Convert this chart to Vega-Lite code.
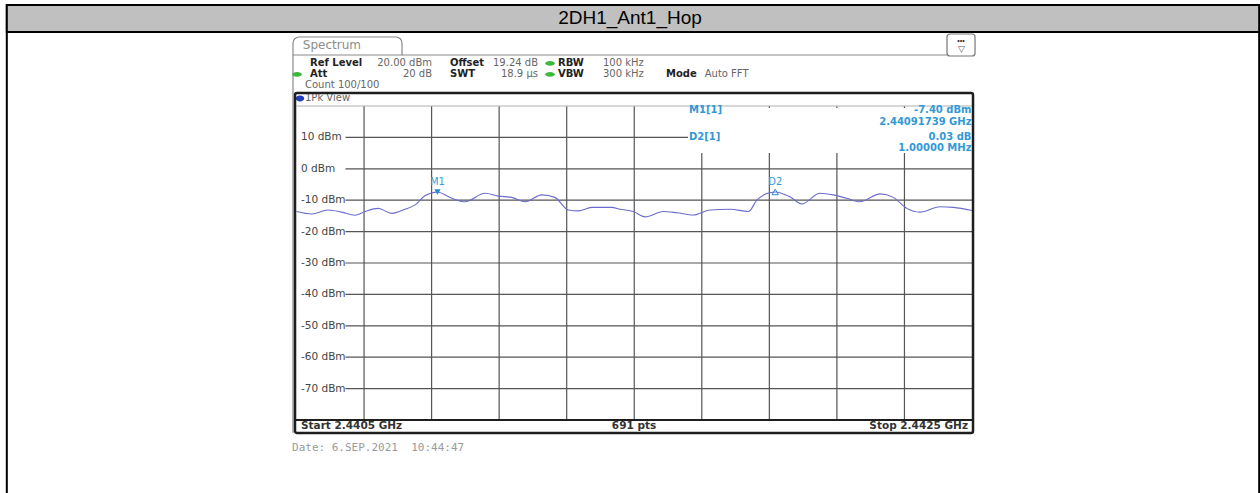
{
"$schema": "https://vega.github.io/schema/vega-lite/v6.json",
"width": 675.5, "height": 314,
"autosize": {"type": "none"},
"padding": {"left": 296.5, "top": 106, "right": 288, "bottom": 73},
"background": "white",
"config": {"view": {"stroke": null}, "axis": {"disable": true}, "legend": {"disable": true}},
"datasets": {
"trace": [
{"f":2440.500,"dBm":-13.6},{"f":2440.545,"dBm":-14.4},{"f":2440.593,"dBm":-13.1},{"f":2440.634,"dBm":-13.8},{"f":2440.673,"dBm":-14.8},{"f":2440.703,"dBm":-13.6},{"f":2440.742,"dBm":-12.6},{"f":2440.782,"dBm":-14.2},{"f":2440.821,"dBm":-12.9},{"f":2440.851,"dBm":-11.5},{"f":2440.880,"dBm":-8.6},{"f":2440.917,"dBm":-7.4},{"f":2440.960,"dBm":-9.4},{"f":2440.999,"dBm":-10.5},{"f":2441.058,"dBm":-7.8},{"f":2441.097,"dBm":-8.7},{"f":2441.137,"dBm":-9.1},{"f":2441.177,"dBm":-10.5},{"f":2441.226,"dBm":-8.3},{"f":2441.265,"dBm":-9.1},{"f":2441.305,"dBm":-13.1},{"f":2441.334,"dBm":-13.4},{"f":2441.374,"dBm":-12.3},{"f":2441.433,"dBm":-12.3},{"f":2441.458,"dBm":-12.9},{"f":2441.497,"dBm":-13.6},{"f":2441.532,"dBm":-15.3},{"f":2441.586,"dBm":-13.6},{"f":2441.626,"dBm":-14.0},{"f":2441.675,"dBm":-14.7},{"f":2441.724,"dBm":-13.1},{"f":2441.784,"dBm":-12.9},{"f":2441.838,"dBm":-13.6},{"f":2441.863,"dBm":-10.0},{"f":2441.892,"dBm":-7.9},{"f":2441.917,"dBm":-7.37},{"f":2441.961,"dBm":-8.9},{"f":2441.996,"dBm":-11.2},{"f":2442.050,"dBm":-7.8},{"f":2442.089,"dBm":-8.3},{"f":2442.129,"dBm":-9.4},{"f":2442.168,"dBm":-10.5},{"f":2442.228,"dBm":-8.0},{"f":2442.267,"dBm":-9.1},{"f":2442.307,"dBm":-12.6},{"f":2442.346,"dBm":-13.8},{"f":2442.405,"dBm":-12.1},{"f":2442.445,"dBm":-12.3},{"f":2442.500,"dBm":-13.3}
],
"vgrid": [{"f":2440.7},{"f":2440.9},{"f":2441.1},{"f":2441.3},{"f":2441.5},{"f":2441.7},{"f":2441.9},{"f":2442.1},{"f":2442.3}],
"levels": [{"lvl":10,"label":"10 dBm"},{"lvl":0,"label":"0 dBm"},{"lvl":-10,"label":"-10 dBm"},{"lvl":-20,"label":"-20 dBm"},{"lvl":-30,"label":"-30 dBm"},{"lvl":-40,"label":"-40 dBm"},{"lvl":-50,"label":"-50 dBm"},{"lvl":-60,"label":"-60 dBm"},{"lvl":-70,"label":"-70 dBm"}],
"markers": [{"name":"M1","f":2440.91739,"dBm":-7.40},{"name":"D2","f":2441.91739,"dBm":-7.37}],
"one": [{}]
},
"layer": [
{"data":{"name":"one"},"mark":{"type":"rect","fill":"white","stroke":"#000","strokeWidth":2},"encoding":{"x":{"datum":2439.6423,"type":"quantitative"},"x2":{"datum":2443.3503},"y":{"datum":52.17,"type":"quantitative"},"y2":{"datum":-107}}},
{"data":{"name":"one"},"mark":{"type":"rect","fill":"#c0c0c0","stroke":"#000","strokeWidth":2},"encoding":{"x":{"datum":2439.6423,"type":"quantitative"},"x2":{"datum":2443.3503},"y":{"datum":52.17,"type":"quantitative"},"y2":{"datum":43.57}}},
{"data":{"name":"one"},"mark":{"type":"text","text":"2DH1_Ant1_Hop","font":"Liberation Sans","fontSize":19,"color":"#000","align":"center","baseline":"middle"},"encoding":{"x":{"datum":2441.4874,"type":"quantitative"},"y":{"datum":47.87,"type":"quantitative"}}},
{"data":{"name":"one"},"mark":{"type":"rect","fill":"white","stroke":"#8a8a8a","strokeWidth":1.2,"cornerRadiusTopLeft":6,"cornerRadiusTopRight":6},"encoding":{"x":{"datum":2440.4896,"type":"quantitative"},"x2":{"datum":2440.8124},"y":{"datum":41.97,"type":"quantitative"},"y2":{"datum":36.24}}},
{"data":{"name":"one"},"mark":{"type":"rule","stroke":"#8a8a8a","strokeWidth":1.2},"encoding":{"x":{"datum":2440.8124,"type":"quantitative"},"x2":{"datum":2442.426},"y":{"datum":36.24,"type":"quantitative"}}},
{"data":{"name":"one"},"mark":{"type":"rule","stroke":"#8a8a8a","strokeWidth":1.2},"encoding":{"x":{"datum":2440.4896,"type":"quantitative"},"y":{"datum":36.24,"type":"quantitative"},"y2":{"datum":-84.1}}},
{"data":{"name":"one"},"mark":{"type":"rect","fill":"white","stroke":"#777","strokeWidth":1.2,"cornerRadius":3},"encoding":{"x":{"datum":2442.426,"type":"quantitative"},"x2":{"datum":2442.509},"y":{"datum":42.93,"type":"quantitative"},"y2":{"datum":35.92}}},
{"data":{"name":"one"},"mark":{"type":"text","text":"•••","fontSize":7,"color":"#222","align":"center","baseline":"middle"},"encoding":{"x":{"datum":2442.4675,"type":"quantitative"},"y":{"datum":40.6,"type":"quantitative"}}},
{"data":{"name":"one"},"mark":{"type":"text","text":"▽","fontSize":9,"color":"#555","align":"center","baseline":"middle"},"encoding":{"x":{"datum":2442.4675,"type":"quantitative"},"y":{"datum":38.2,"type":"quantitative"}}},
{"data":{"name":"one"},"mark":{"type":"text","text":"Spectrum","font":"DejaVu Sans","fontSize":12,"color":"#8c8c8c","align":"left","baseline":"middle"},"encoding":{"x":{"datum":2440.5188,"type":"quantitative"},"y":{"datum":39.43,"type":"quantitative"}}},
{"data":{"name":"one"},"mark":{"type":"text","text":"Ref Level","font":"DejaVu Sans","fontSize":10,"fontWeight":"bold","color":"#222","align":"left","baseline":"middle"},"encoding":{"x":{"datum":2440.540,"type":"quantitative"},"y":{"datum":33.6,"type":"quantitative"}}},
{"data":{"name":"one"},"mark":{"type":"text","text":"20.00 dBm","font":"DejaVu Sans","fontSize":10,"color":"#666","align":"right","baseline":"middle"},"encoding":{"x":{"datum":2440.9012,"type":"quantitative"},"y":{"datum":33.6,"type":"quantitative"}}},
{"data":{"name":"one"},"mark":{"type":"text","text":"Offset","font":"DejaVu Sans","fontSize":10,"fontWeight":"bold","color":"#222","align":"left","baseline":"middle"},"encoding":{"x":{"datum":2440.9545,"type":"quantitative"},"y":{"datum":33.6,"type":"quantitative"}}},
{"data":{"name":"one"},"mark":{"type":"text","text":"19.24 dB","font":"DejaVu Sans","fontSize":10,"color":"#666","align":"right","baseline":"middle"},"encoding":{"x":{"datum":2441.2150,"type":"quantitative"},"y":{"datum":33.6,"type":"quantitative"}}},
{"data":{"name":"one"},"mark":{"type":"text","text":"RBW","font":"DejaVu Sans","fontSize":10,"fontWeight":"bold","color":"#222","align":"left","baseline":"middle"},"encoding":{"x":{"datum":2441.2743,"type":"quantitative"},"y":{"datum":33.6,"type":"quantitative"}}},
{"data":{"name":"one"},"mark":{"type":"text","text":"100 kHz","font":"DejaVu Sans","fontSize":10,"color":"#666","align":"left","baseline":"middle"},"encoding":{"x":{"datum":2441.4075,"type":"quantitative"},"y":{"datum":33.6,"type":"quantitative"}}},
{"data":{"name":"one"},"mark":{"type":"text","text":"Att","font":"DejaVu Sans","fontSize":10,"fontWeight":"bold","color":"#222","align":"left","baseline":"middle"},"encoding":{"x":{"datum":2440.540,"type":"quantitative"},"y":{"datum":30.1,"type":"quantitative"}}},
{"data":{"name":"one"},"mark":{"type":"text","text":"20 dB","font":"DejaVu Sans","fontSize":10,"color":"#666","align":"right","baseline":"middle"},"encoding":{"x":{"datum":2440.9012,"type":"quantitative"},"y":{"datum":30.1,"type":"quantitative"}}},
{"data":{"name":"one"},"mark":{"type":"text","text":"SWT","font":"DejaVu Sans","fontSize":10,"fontWeight":"bold","color":"#222","align":"left","baseline":"middle"},"encoding":{"x":{"datum":2440.9545,"type":"quantitative"},"y":{"datum":30.1,"type":"quantitative"}}},
{"data":{"name":"one"},"mark":{"type":"text","text":"18.9 µs","font":"DejaVu Sans","fontSize":10,"color":"#666","align":"right","baseline":"middle"},"encoding":{"x":{"datum":2441.2150,"type":"quantitative"},"y":{"datum":30.1,"type":"quantitative"}}},
{"data":{"name":"one"},"mark":{"type":"text","text":"VBW","font":"DejaVu Sans","fontSize":10,"fontWeight":"bold","color":"#222","align":"left","baseline":"middle"},"encoding":{"x":{"datum":2441.2743,"type":"quantitative"},"y":{"datum":30.1,"type":"quantitative"}}},
{"data":{"name":"one"},"mark":{"type":"text","text":"300 kHz","font":"DejaVu Sans","fontSize":10,"color":"#666","align":"left","baseline":"middle"},"encoding":{"x":{"datum":2441.4075,"type":"quantitative"},"y":{"datum":30.1,"type":"quantitative"}}},
{"data":{"name":"one"},"mark":{"type":"text","text":"Mode","font":"DejaVu Sans","fontSize":10,"fontWeight":"bold","color":"#222","align":"left","baseline":"middle"},"encoding":{"x":{"datum":2441.594,"type":"quantitative"},"y":{"datum":30.1,"type":"quantitative"}}},
{"data":{"name":"one"},"mark":{"type":"text","text":"Auto FFT","font":"DejaVu Sans","fontSize":10,"color":"#666","align":"left","baseline":"middle"},"encoding":{"x":{"datum":2441.7086,"type":"quantitative"},"y":{"datum":30.1,"type":"quantitative"}}},
{"data":{"name":"one"},"mark":{"type":"text","text":"Count 100/100","font":"DejaVu Sans","fontSize":10,"color":"#666","align":"left","baseline":"middle"},"encoding":{"x":{"datum":2440.5252,"type":"quantitative"},"y":{"datum":26.69,"type":"quantitative"}}},
{"data":{"name":"one"},"mark":{"type":"text","text":"1Pk View","font":"DejaVu Sans","fontSize":10,"color":"#666","align":"left","baseline":"middle"},"encoding":{"x":{"datum":2440.5252,"type":"quantitative"},"y":{"datum":22.39,"type":"quantitative"}}},
{"data":{"name":"one"},"mark":{"type":"point","filled":true,"color":"#3cb83c","opacity":1,"size":90,"shape":"M -1 0 A 1 0.5 0 1 0 1 0 A 1 0.5 0 1 0 -1 0 Z"},"encoding":{"x":{"datum":2441.2506,"type":"quantitative"},"y":{"datum":33.6,"type":"quantitative"}}},
{"data":{"name":"one"},"mark":{"type":"point","filled":true,"color":"#3cb83c","opacity":1,"size":90,"shape":"M -1 0 A 1 0.5 0 1 0 1 0 A 1 0.5 0 1 0 -1 0 Z"},"encoding":{"x":{"datum":2441.2506,"type":"quantitative"},"y":{"datum":30.1,"type":"quantitative"}}},
{"data":{"name":"one"},"mark":{"type":"point","filled":true,"color":"#3cb83c","opacity":1,"size":90,"shape":"M -1 0 A 1 0.5 0 1 0 1 0 A 1 0.5 0 1 0 -1 0 Z"},"encoding":{"x":{"datum":2440.5015,"type":"quantitative"},"y":{"datum":30.1,"type":"quantitative"}}},
{"data":{"name":"one"},"mark":{"type":"point","filled":true,"color":"#1f3fbf","opacity":1,"size":70,"shape":"M -1 0 A 1 0.7 0 1 0 1 0 A 1 0.7 0 1 0 -1 0 Z"},"encoding":{"x":{"datum":2440.5104,"type":"quantitative"},"y":{"datum":22.39,"type":"quantitative"}}},
{"data":{"name":"vgrid"},"mark":{"type":"rule","stroke":"#555","strokeWidth":1.2},"encoding":{"x":{"field":"f","type":"quantitative","scale":{"domain":[2440.5,2442.5],"nice":false,"zero":false},"axis":null},"y":{"datum":20,"type":"quantitative","scale":{"domain":[-80,20],"nice":false,"zero":false},"axis":null},"y2":{"datum":-80}}},
{"data":{"name":"levels"},"mark":{"type":"rule","stroke":"#555","strokeWidth":1.2},"encoding":{"y":{"field":"lvl","type":"quantitative","scale":{"domain":[-80,20],"nice":false,"zero":false},"axis":null},"x":{"datum":2440.645,"type":"quantitative","scale":{"domain":[2440.5,2442.5],"nice":false,"zero":false},"axis":null},"x2":{"datum":2442.5}}},
{"data":{"name":"one"},"mark":{"type":"rule","stroke":"#b0b0b0","strokeWidth":1},"encoding":{"x":{"datum":2440.5,"type":"quantitative"},"x2":{"datum":2442.5},"y":{"datum":20,"type":"quantitative"}}},
{"data":{"name":"one"},"mark":{"type":"rect","fill":"white"},"encoding":{"x":{"datum":2441.6591,"type":"quantitative"},"x2":{"datum":2442.5},"y":{"datum":19.36,"type":"quantitative"},"y2":{"datum":5.03}}},
{"data":{"name":"trace"},"mark":{"type":"line","color":"#6b6bcf","strokeWidth":1.1,"interpolate":"monotone"},"encoding":{"x":{"field":"f","type":"quantitative","scale":{"domain":[2440.5,2442.5],"nice":false,"zero":false},"axis":null},"y":{"field":"dBm","type":"quantitative","scale":{"domain":[-80,20],"nice":false,"zero":false},"axis":null}}},
{"data":{"name":"markers"},"transform":[{"filter":"datum.name == 'M1'"}],"mark":{"type":"point","shape":"triangle-down","filled":true,"color":"#2a8ad0","opacity":1,"size":40},"encoding":{"x":{"field":"f","type":"quantitative"},"y":{"field":"dBm","type":"quantitative"}}},
{"data":{"name":"markers"},"transform":[{"filter":"datum.name == 'D2'"}],"mark":{"type":"point","shape":"triangle-up","filled":false,"color":"#2a8ad0","opacity":1,"size":40,"strokeWidth":1},"encoding":{"x":{"field":"f","type":"quantitative"},"y":{"field":"dBm","type":"quantitative"}}},
{"data":{"name":"markers"},"mark":{"type":"text","dy":-10,"font":"DejaVu Sans","fontSize":10,"color":"#3a9bd5","align":"center","baseline":"middle"},"encoding":{"x":{"field":"f","type":"quantitative"},"y":{"field":"dBm","type":"quantitative"},"text":{"field":"name"}}},
{"data":{"name":"one"},"mark":{"type":"text","text":"M1[1]","font":"DejaVu Sans","fontSize":10,"fontWeight":"bold","color":"#3399d6","align":"left","baseline":"middle"},"encoding":{"x":{"datum":2441.6621,"type":"quantitative"},"y":{"datum":18.57,"type":"quantitative"}}},
{"data":{"name":"one"},"mark":{"type":"text","text":"-7.40 dBm","font":"DejaVu Sans","fontSize":10,"fontWeight":"bold","color":"#3399d6","align":"right","baseline":"middle"},"encoding":{"x":{"datum":2442.4985,"type":"quantitative"},"y":{"datum":18.57,"type":"quantitative"}}},
{"data":{"name":"one"},"mark":{"type":"text","text":"2.44091739 GHz","font":"DejaVu Sans","fontSize":10,"fontWeight":"bold","color":"#3399d6","align":"right","baseline":"middle"},"encoding":{"x":{"datum":2442.4985,"type":"quantitative"},"y":{"datum":15.06,"type":"quantitative"}}},
{"data":{"name":"one"},"mark":{"type":"text","text":"D2[1]","font":"DejaVu Sans","fontSize":10,"fontWeight":"bold","color":"#3399d6","align":"left","baseline":"middle"},"encoding":{"x":{"datum":2441.6621,"type":"quantitative"},"y":{"datum":10.13,"type":"quantitative"}}},
{"data":{"name":"one"},"mark":{"type":"text","text":"0.03 dB","font":"DejaVu Sans","fontSize":10,"fontWeight":"bold","color":"#3399d6","align":"right","baseline":"middle"},"encoding":{"x":{"datum":2442.4985,"type":"quantitative"},"y":{"datum":10.13,"type":"quantitative"}}},
{"data":{"name":"one"},"mark":{"type":"text","text":"1.00000 MHz","font":"DejaVu Sans","fontSize":10,"fontWeight":"bold","color":"#3399d6","align":"right","baseline":"middle"},"encoding":{"x":{"datum":2442.4985,"type":"quantitative"},"y":{"datum":6.6,"type":"quantitative"}}},
{"data":{"name":"levels"},"mark":{"type":"text","font":"DejaVu Sans","fontSize":10.5,"color":"#444","align":"left","baseline":"middle"},"encoding":{"y":{"field":"lvl","type":"quantitative"},"x":{"datum":2440.5133,"type":"quantitative"},"text":{"field":"label"}}},
{"data":{"name":"one"},"mark":{"type":"rect","filled":false,"color":"#1e1e1e","strokeWidth":2.5,"cornerRadius":2},"encoding":{"x":{"datum":2440.4956,"type":"quantitative"},"x2":{"datum":2442.503},"y":{"datum":24.14,"type":"quantitative"},"y2":{"datum":-84.14}}},
{"data":{"name":"one"},"mark":{"type":"rule","stroke":"#1e1e1e","strokeWidth":2},"encoding":{"x":{"datum":2440.4956,"type":"quantitative"},"x2":{"datum":2442.503},"y":{"datum":-80,"type":"quantitative"}}},
{"data":{"name":"one"},"mark":{"type":"text","text":"Start 2.4405 GHz","font":"DejaVu Sans","fontSize":10.5,"fontWeight":"bold","color":"#333","align":"left","baseline":"middle"},"encoding":{"x":{"datum":2440.5133,"type":"quantitative"},"y":{"datum":-81.8,"type":"quantitative"}}},
{"data":{"name":"one"},"mark":{"type":"text","text":"691 pts","font":"DejaVu Sans","fontSize":10.5,"fontWeight":"bold","color":"#333","align":"center","baseline":"middle"},"encoding":{"x":{"datum":2441.4993,"type":"quantitative"},"y":{"datum":-81.8,"type":"quantitative"}}},
{"data":{"name":"one"},"mark":{"type":"text","text":"Stop 2.4425 GHz","font":"DejaVu Sans","fontSize":10.5,"fontWeight":"bold","color":"#333","align":"right","baseline":"middle"},"encoding":{"x":{"datum":2442.4882,"type":"quantitative"},"y":{"datum":-81.8,"type":"quantitative"}}},
{"data":{"name":"one"},"mark":{"type":"text","text":"Date: 6.SEP.2021\u00a0\u00a010:44:47","font":"DejaVu Sans Mono","fontSize":11,"color":"#9a9a9a","align":"left","baseline":"middle"},"encoding":{"x":{"datum":2440.4867,"type":"quantitative"},"y":{"datum":-88.9,"type":"quantitative"}}}
]
}
